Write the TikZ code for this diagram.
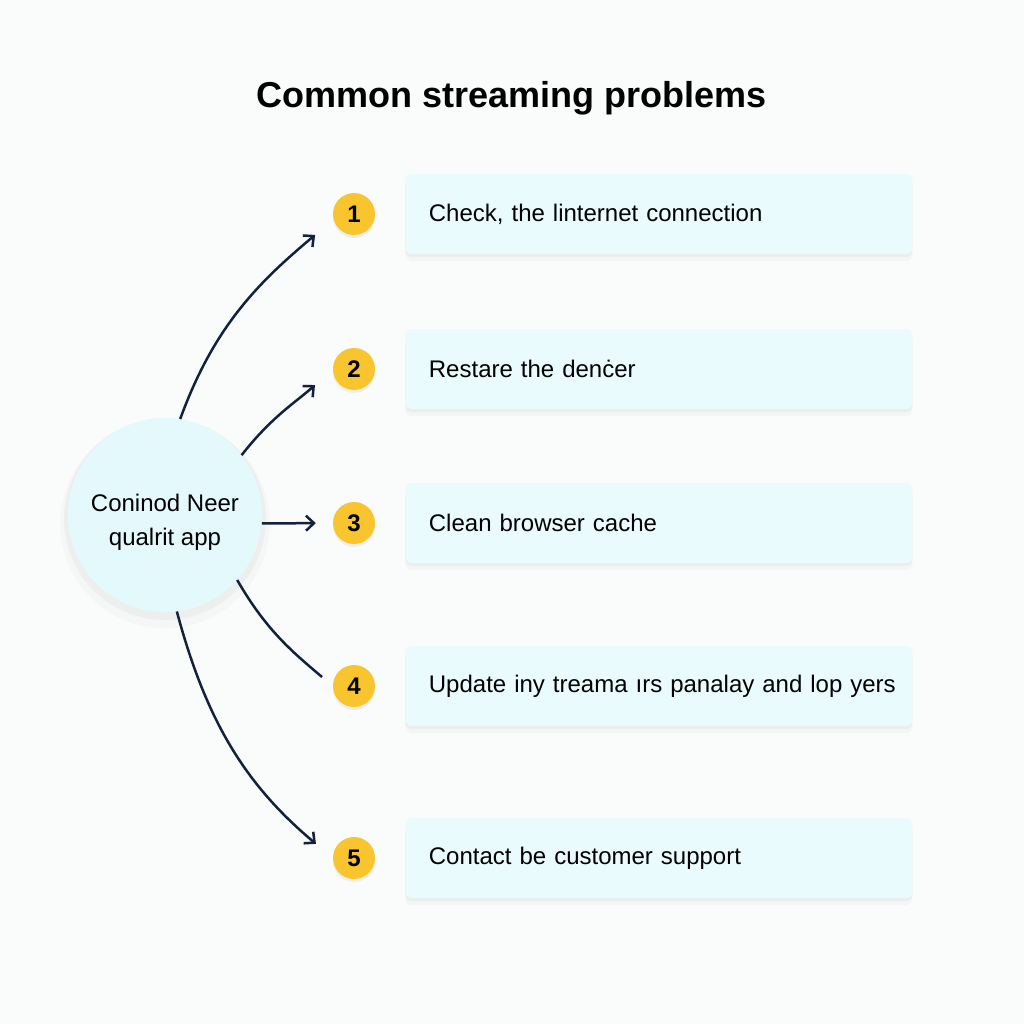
\documentclass[tikz,border=0pt]{standalone}
\usepackage{fontspec}
\setmainfont{Liberation Sans}
\usepackage{tikz}
\usetikzlibrary{arrows.meta,positioning,shadows}
\definecolor{ink}{HTML}{14213D}
\definecolor{amber}{HTML}{F9C52F}
\definecolor{softcyan}{HTML}{EAFBFD}
\definecolor{hubcyan}{HTML}{E4F9FC}
\definecolor{paper}{HTML}{FAFBFB}

\begin{document}
\begin{tikzpicture}[
  x=1pt, y=1pt,
  font=\fontsize{24}{34}\selectfont,
  soft/.style={general shadow={fill=black, opacity=0.03, shadow yshift=-3pt},
    general shadow={fill=black, opacity=0.025, shadow yshift=-7pt}},
  hub/.style={circle, fill=hubcyan, minimum size=194pt, inner sep=0pt, align=center,
    general shadow={fill=black, opacity=0.03, shadow yshift=-4pt, shadow scale=1.04},
    general shadow={fill=black, opacity=0.02, shadow yshift=-8pt, shadow scale=1.08}},
  badge/.style={circle, fill=amber, minimum size=42pt, inner sep=0pt, font=\fontsize{24}{24}\selectfont\bfseries,
    general shadow={fill=black, opacity=0.05, shadow yshift=-3pt}},
  fixbox/.style={fill=softcyan, rounded corners=6pt, minimum height=80pt, text width=460pt, inner xsep=23.5pt, align=left, soft,
    execute at begin node=\hbox\bgroup, execute at end node=\egroup},
  link/.style={-{Straight Barb[length=8pt,width=15pt]}, line width=2.5pt, ink}
]
\fill[paper] (0,0) rectangle (1024,-1024);
\useasboundingbox (0,0) rectangle (1024,-1024);

\node[font=\fontsize{36}{40}\selectfont\bfseries] (title) at (512,-98) {Common streaming problems};

\node[hub] (hub) at (165,-515) {\rule{0pt}{32pt}Coninod Neer\\qualrit app};

\node[badge] (b1) at (354,-214) {1};
\node[badge] (b2) at (354,-369) {2};
\node[badge] (b3) at (354,-523) {3};
\node[badge] (b4) at (354,-686) {4};
\node[badge] (b5) at (354,-858) {5};

\node[fixbox, right=30pt of b1] (f1) {Check, the linternet connection};
\node[fixbox, right=30pt of b2] (f2) {Restare the denċer};
\node[fixbox, right=30pt of b3] (f3) {Clean browser cache};
\node[fixbox, right=30pt of b4] (f4) {Update iny treama ırs panalay and lop yers};
\node[fixbox, right=30pt of b5] (f5) {Contact be customer support};

\draw[link, shorten >=24pt] (hub.81) to[out=70, in=220] (b1.195);
\draw[link, shorten >=24pt] (hub.38) to[out=52, in=222] (b2.180);
\draw[link, shorten >=17pt] (hub.-5) -- (b3.west);
\draw[line width=2.5pt, ink, shorten >=14pt] (hub.-42) to[out=-60, in=140] (b4.180);
\draw[link, shorten >=22pt] (hub.-83) to[out=-75, in=140] (b5.180);
\end{tikzpicture}
\end{document}
